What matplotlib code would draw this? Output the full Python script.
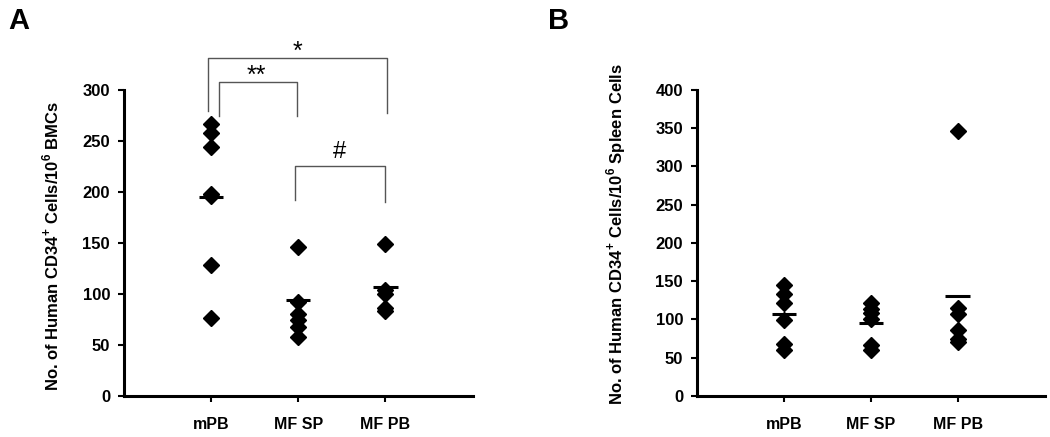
import matplotlib
matplotlib.use("Agg")
import matplotlib.pyplot as plt

plt.rcParams['font.family'] = ['Liberation Sans', 'DejaVu Sans']
plt.rcParams['mathtext.fontset'] = 'custom'
plt.rcParams['mathtext.rm'] = 'Liberation Sans:bold'
plt.rcParams['mathtext.bf'] = 'Liberation Sans:bold'

categories = ["mPB", "MF SP", "MF PB"]

# Panel A: BMCs
a_mpb = [267, 258, 244, 198, 196, 128, 76]
a_mfsp = [146, 92, 80, 74, 68, 58]
a_mfpb = [149, 104, 100, 86, 83]
a_means = [195, 94, 107]

# Panel B: spleen cells
b_mpb = [145, 133, 121, 99, 68, 60]
b_mfsp = [121, 114, 108, 101, 66, 60]
b_mfpb = [347, 115, 107, 86, 75, 70]
b_means = [107, 96, 131]

a_ticks = [0, 50, 100, 150, 200, 250, 300]
b_ticks = [0, 50, 100, 150, 200, 250, 300, 350, 400]

fig = plt.figure(figsize=(10.5, 4.37), dpi=100)
axA = fig.add_axes([0.118, 0.094, 0.332, 0.700])
axB = fig.add_axes([0.6638, 0.094, 0.331, 0.700])


def style(ax, ticks, ylabel, lx, ly):
    for s in ['top', 'right']:
        ax.spines[s].set_visible(False)
    for s in ['left', 'bottom']:
        ax.spines[s].set_linewidth(2.2)
    ax.set_xlim(0, 4)
    ax.set_ylim(ticks[0], ticks[-1])
    ax.set_yticks(ticks)
    ax.set_yticklabels([str(t) for t in ticks], fontsize=12, fontweight='bold')
    ax.set_xticks([1, 2, 3])
    ax.set_xticklabels(categories, fontsize=11.5, fontweight='bold')
    ax.tick_params(axis='both', direction='out', length=4, width=1.5, pad=6)
    ax.tick_params(axis='x', pad=11)
    ax.set_ylabel(ylabel, fontsize=12, fontweight='bold')
    ax.yaxis.set_label_coords(lx, ly)


def draw(ax, groups, means):
    for i, vals in enumerate(groups):
        ax.plot([i + 1] * len(vals), vals, linestyle='none', marker='D',
                markersize=8, color='black', clip_on=False, zorder=3)
    for i, m in enumerate(means):
        ax.plot([i + 1 - 0.14, i + 1 + 0.14], [m, m], color='black',
                linewidth=2.2, solid_capstyle='butt', zorder=4)


draw(axA, [a_mpb, a_mfsp, a_mfpb], a_means)
draw(axB, [b_mpb, b_mfsp, b_mfpb], b_means)
style(axA, a_ticks, r"No. of Human CD34$^{+}$ Cells/10$^{6}$ BMCs", -0.18, 0.49)
style(axB, b_ticks, r"No. of Human CD34$^{+}$ Cells/10$^{6}$ Spleen Cells", -0.198, 0.53)


def bracket(ax, x1, x2, ybot1, ybot2, ytop, label, tx, ty, fs):
    ax.plot([x1, x1, x2, x2], [ybot1, ytop, ytop, ybot2], color='#555555',
            linewidth=1.0, clip_on=False)
    ax.text(tx, ty, label, ha='center', va='center', fontsize=fs, clip_on=False)


bracket(axA, 0.97, 3.02, 279, 277, 331, "*", 1.99, 337, 18)
bracket(axA, 1.09, 1.985, 275, 275, 308, "**", 1.52, 314, 18)
bracket(axA, 1.96, 3.0, 192, 190, 225, "#", 2.47, 239, 17)

fig.text(0.008, 0.952, "A", fontsize=21, fontweight='bold', va='center')
fig.text(0.522, 0.952, "B", fontsize=21, fontweight='bold', va='center')

fig.savefig("out.png", dpi=100)
